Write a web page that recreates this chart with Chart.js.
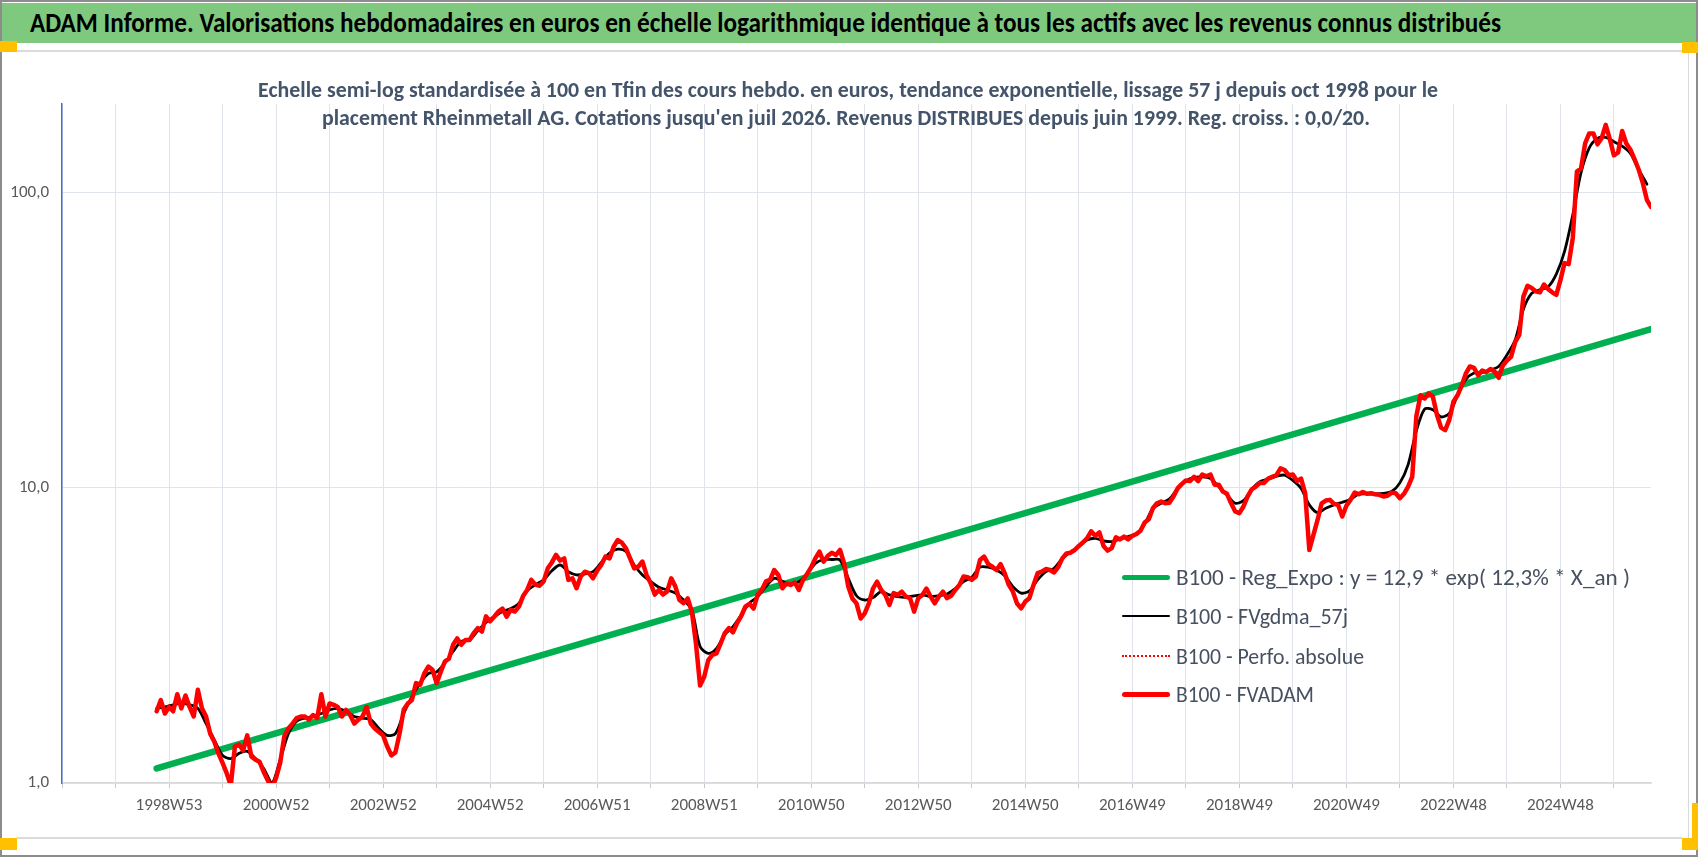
<!DOCTYPE html>
<html lang="fr">
<head>
<meta charset="utf-8">
<title>ADAM Informe - Rheinmetall AG</title>
<script src="https://cdn.jsdelivr.net/npm/chart.js@4.4.1/dist/chart.umd.min.js"></script>
<style>
  html, body { margin: 0; padding: 0; background: #fff; }
  #page { position: relative; width: 1698px; height: 857px; overflow: hidden; background: #fff;
          font-family: Carlito, Lato, sans-serif; }
  #frame { position: absolute; left: 0; top: 0; width: 1698px; height: 857px; box-sizing: border-box;
           border: 2px solid #8c8c8c; z-index: 6; pointer-events: none; }
  #bar { position: absolute; left: 2px; top: 3px; width: 1694px; height: 40px; background: #7fc97f; }
  #bar-title { position: absolute; left: 28px; top: 0; line-height: 40px; font-weight: bold; font-size: 28px;
               color: #000; white-space: nowrap; transform-origin: left center; }
  .edge { position: absolute; background: #dadada; }
  .handle { position: absolute; background: #ffc000; z-index: 7; }
  #chart { position: absolute; left: 0; top: 0; z-index: 1; }
  .sub { position: absolute; white-space: nowrap; font-weight: bold; font-size: 23px; line-height: 28px;
         color: #44546a; transform-origin: left center; z-index: 2; }
  .row { position: absolute; left: 1122px; height: 30px; width: 520px; z-index: 2; }
  .row .mark { position: absolute; left: 0; width: 48px; }
  .row .txt { position: absolute; left: 54px; top: 0; line-height: 30px; font-size: 23px; color: #475060;
              white-space: nowrap; transform-origin: left center; }
</style>
</head>
<body>
<div id="page">
  <div id="bar"><span id="bar-title">ADAM Informe. Valorisations hebdomadaires en euros en échelle logarithmique identique à tous les actifs avec les revenus connus distribués</span></div>

  <div class="edge" style="left:17px; top:50px; width:1665px; height:2px;"></div>
  <div class="edge" style="left:17px; top:837px; width:1665px; height:2px;"></div>
  <div class="edge" style="left:1688px; top:52px; width:1px; height:786px;"></div>

  <div class="handle" style="left:0; top:41px; width:17px; height:11px;"></div>
  <div class="handle" style="left:1682px; top:42px; width:16px; height:11px;"></div>
  <div class="handle" style="left:0; top:838px; width:17px; height:12px;"></div>
  <div class="handle" style="left:1682px; top:838px; width:16px; height:12px;"></div>
  <div class="handle" style="left:1692px; top:803px; width:6px; height:40px;"></div>

  <canvas id="chart" width="1698" height="857"></canvas>

  <div class="sub" id="sub1" style="left:258px; top:75px;">Echelle semi-log standardisée à 100 en Tfin des cours hebdo. en euros, tendance exponentielle, lissage 57 j depuis oct 1998 pour le</div>
  <div class="sub" id="sub2" style="left:322px; top:103px;">placement Rheinmetall AG. Cotations jusqu'en juil 2026. Revenus DISTRIBUES depuis juin 1999. Reg. croiss. : 0,0/20.</div>

  <div id="legend"></div>
  <div id="frame"></div>
</div>

<script>
// ---- Données (semaines depuis 1997W01) ----
const X_TICK_LABELS = ['1998W53', '2000W52', '2002W52', '2004W52', '2006W51', '2008W51', '2010W50',
  '2012W50', '2014W50', '2016W49', '2018W49', '2020W49', '2022W48', '2024W48'];
const Y_TICKS = [1, 10, 100];
const Y_TICK_LABELS = ['1,0', '10,0', '100,0'];

// FVADAM : une valeur toutes les 4 semaines, à partir de la semaine 92 (oct 1998)
const FVADAM_START = 92;
const FVADAM_STEP = 4;
const FVADAM = [
  1.75, 1.91, 1.72, 1.81, 1.75, 2.0, 1.79, 1.98, 1.81, 1.68,
  2.07, 1.79, 1.68, 1.47, 1.38, 1.26, 1.17, 1.08, 0.98, 1.33,
  1.35, 1.29, 1.45, 1.23, 1.2, 1.18, 1.09, 1.02, 0.96, 1.04,
  1.17, 1.44, 1.53, 1.59, 1.66, 1.68, 1.68, 1.64, 1.70, 1.66,
  2.0, 1.68, 1.86, 1.84, 1.81, 1.68, 1.77, 1.70, 1.59, 1.64,
  1.68, 1.81, 1.59, 1.53, 1.49, 1.45, 1.33, 1.24, 1.27, 1.47,
  1.77, 1.86, 1.91, 2.18, 2.15, 2.35, 2.48, 2.42, 2.18, 2.38,
  2.58, 2.64, 2.94, 3.09, 2.94, 3.05,
  3.05, 3.22, 3.35, 3.26, 3.67, 3.53, 3.66, 3.81, 3.9, 3.66,
  3.86, 3.81, 3.96, 4.30, 4.51, 4.88, 4.70, 4.66, 4.82, 5.34,
  5.59, 5.93, 5.67, 5.77, 4.88, 4.94, 4.57, 5.01, 5.20, 5.14,
  4.94, 5.24, 5.48, 5.85, 5.77, 6.32, 6.66, 6.52, 6.24, 5.77,
  5.34, 5.41, 5.63, 5.07, 4.75, 4.35, 4.51, 4.35, 4.46, 4.94,
  4.63, 4.17, 4.07, 4.22, 3.81, 2.97, 2.14, 2.29, 2.61, 2.72,
  2.75, 2.97, 3.22, 3.35, 3.24, 3.48, 3.68, 3.96, 4.05, 3.90,
  4.35, 4.51, 4.82, 4.88, 5.27, 5.07, 4.57, 4.75,
  4.69, 4.78, 4.51, 4.88, 5.11, 5.39, 5.77, 6.08, 5.62, 5.88,
  6.03, 5.93, 6.16, 5.55, 4.63, 4.22, 4.06, 3.61, 3.76, 4.06,
  4.56, 4.81, 4.51, 4.34, 4.01, 4.40, 4.34, 4.45, 4.28, 4.23,
  3.81, 4.23, 4.34, 4.56, 4.28, 4.06, 4.28, 4.45, 4.23, 4.31,
  4.51, 4.69, 5.01, 4.98, 4.88, 5.01, 5.70, 5.85, 5.52, 5.41,
  5.27, 5.52, 5.14, 4.69, 4.45, 4.06, 3.91, 4.12, 4.23, 4.69,
  5.14, 5.20, 5.31, 5.27, 5.17, 5.39, 5.77, 6.0, 6.03, 6.16,
  6.36, 6.53, 6.75, 7.13, 6.88, 7.07, 6.36, 6.13,
  6.25, 6.80, 6.69, 6.84, 6.69, 6.88, 6.98, 7.16, 7.63, 7.83,
  8.53, 8.87, 8.99, 8.87, 8.9, 9.35, 9.96, 10.3, 10.6, 10.55,
  10.9, 10.55, 11.1, 10.95, 11.1, 10.25, 10.25, 9.72, 9.55, 8.87,
  8.32, 8.21, 8.65, 9.35, 9.89, 10.1, 10.4, 10.4, 10.75, 10.9,
  11.05, 11.65, 11.5, 11.05, 11.1, 10.55, 10.75, 9.59, 6.16, 6.93,
  7.79, 8.87, 9.06, 9.11, 8.83, 8.76, 8.0, 8.7, 9.11, 9.64,
  9.52, 9.69, 9.55, 9.59, 9.52, 9.47, 9.35, 9.40, 9.64, 9.59,
  9.23, 9.55, 10.1, 10.9, 17.5, 20.6, 20.1, 20.9,
  20.4, 17.7, 16.0, 15.7, 17.0, 19.6, 20.6, 22.2, 24.4, 25.8,
  25.5, 24.1, 25.0, 24.7, 25.3, 24.8, 23.6, 26.0, 27.0, 27.8,
  31.2, 33.0, 44.5, 48.4, 47.6, 46.4, 46.0, 48.9, 47.2, 46.0,
  45.1, 50.6, 57.8, 57.3, 70.3, 118, 121, 147, 159, 159,
  146, 153, 170, 152, 134, 137, 162, 147, 140, 130,
  120, 108, 94.7, 89.6
];

// FVgdma_57j : une valeur toutes les 8 semaines
const GDMA_START = 92;
const GDMA_STEP = 8;
const FVGDMA = [
  1.79, 1.81, 1.84, 1.86, 1.84, 1.79, 1.59, 1.40, 1.24, 1.21,
  1.26, 1.28, 1.21, 1.12, 1.0, 1.20, 1.47, 1.62, 1.66, 1.68,
  1.72, 1.77, 1.79, 1.75, 1.68, 1.66, 1.64, 1.53, 1.45, 1.47,
  1.72, 1.96, 2.18, 2.35, 2.38, 2.55, 2.79, 3.02,
  3.05, 3.28, 3.50, 3.66, 3.81, 3.90, 4.07, 4.48, 4.70, 4.88,
  5.24, 5.48, 5.20, 5.07, 5.11, 5.20, 5.59, 6.01, 6.20, 6.09,
  5.48, 5.07, 4.82, 4.61, 4.51, 4.40, 4.17, 3.86, 2.90, 2.75,
  2.86, 3.18, 3.39, 3.71, 4.07, 4.28, 4.63, 4.94, 4.82,
  4.72, 4.81, 5.11, 5.55, 5.72, 5.72, 5.70, 4.94, 4.31, 4.17,
  4.25, 4.45, 4.34, 4.28, 4.26, 4.31, 4.34, 4.28, 4.31, 4.37,
  4.56, 4.81, 4.98, 5.39, 5.39, 5.27, 5.04, 4.63, 4.40, 4.48,
  4.88, 5.20, 5.34, 5.77, 6.06, 6.33, 6.66, 6.75, 6.62,
  6.58, 6.71, 6.84, 6.98, 7.55, 8.53, 8.87, 9.16, 9.96, 10.55,
  10.85, 10.9, 10.75, 10.1, 9.47, 8.87, 9.06, 9.89, 10.5, 10.7,
  10.95, 11.05, 10.6, 9.96, 8.76, 8.25, 8.53, 8.76, 8.94, 9.16,
  9.52, 9.55, 9.55, 9.59, 9.72, 10.4, 12.0, 15.6, 18.5,
  18.4, 17.4, 17.9, 20.6, 23.3, 24.5, 24.6, 25.1, 25.8, 28.2,
  31.7, 40.3, 45.6, 46.9, 48.0, 53.0, 63.3, 84.3, 117, 142,
  153, 154, 149, 144, 136, 120, 107
];

// Régression exponentielle : droite en semi-log, lue à ses deux extrémités
const REG_WEEKS = [92, 1544];
const REG_VALUES = [1.12, 34.5];

const X_MAX_WEEK = 1544;
const GRID_STEP = 52;
const LABEL_STEP = 104;

const LEGEND_ITEMS = [
  { text: 'B100 - Reg_Expo : y = 12,9 * exp( 12,3% *  X_an )', color: '#00b050', size: 5, style: 'solid', width: 454, y: 577 },
  { text: 'B100 - FVgdma_57j', color: '#000000', size: 2.5, style: 'solid', width: 172, y: 616 },
  { text: 'B100 - Perfo. absolue', color: '#ff0000', size: 2, style: 'dotted', width: 188, y: 656 },
  { text: 'B100 - FVADAM', color: '#ff0000', size: 5, style: 'solid', width: 138, y: 694 }
];

function toPoints(start, step, values) {
  return values.map((v, i) => ({ x: start + i * step, y: v }));
}

// étire le texte horizontalement pour retrouver la largeur de l'original
function fitText(el, width) {
  const w = el.getBoundingClientRect().width;
  if (w > 0) el.style.transform = 'scaleX(' + (width / w).toFixed(4) + ')';
}

function buildLegend() {
  const box = document.getElementById('legend');
  LEGEND_ITEMS.forEach(item => {
    const row = document.createElement('div');
    row.className = 'row';
    row.style.top = (item.y - 15) + 'px';
    const mark = document.createElement('div');
    mark.className = 'mark';
    if (item.style === 'dotted') {
      mark.style.top = (15 - item.size / 2) + 'px';
      mark.style.height = '0';
      mark.style.borderTop = item.size + 'px dotted ' + item.color;
    } else {
      mark.style.top = (15 - item.size / 2) + 'px';
      mark.style.height = item.size + 'px';
      mark.style.background = item.color;
      mark.style.borderRadius = (item.size / 2) + 'px';
    }
    const txt = document.createElement('span');
    txt.className = 'txt';
    txt.textContent = item.text;
    row.appendChild(mark);
    row.appendChild(txt);
    box.appendChild(row);
    fitText(txt, item.width);
  });
}

function drawChart() {
  Chart.defaults.font.family = 'Carlito, Lato, sans-serif';
  const ctx = document.getElementById('chart').getContext('2d');
  const adam = toPoints(FVADAM_START, FVADAM_STEP, FVADAM);

  new Chart(ctx, {
    type: 'line',
    data: {
      datasets: [
        { label: 'B100 - FVADAM', data: adam, borderColor: '#ff0000', borderWidth: 4.5, order: 0 },
        { label: 'B100 - Perfo. absolue', data: adam, borderColor: '#ff0000', borderWidth: 1.5,
          borderDash: [2, 2], order: 1 },
        { label: 'B100 - FVgdma_57j', data: toPoints(GDMA_START, GDMA_STEP, FVGDMA), borderColor: '#000000',
          borderWidth: 2.8, tension: 0.3, order: 2 },
        { label: LEGEND_ITEMS[0].text, data: REG_WEEKS.map((w, i) => ({ x: w, y: REG_VALUES[i] })),
          borderColor: '#00b050', borderWidth: 6.5, order: 3 }
      ]
    },
    options: {
      responsive: false,
      animation: false,
      elements: {
        point: { radius: 0 },
        line: { tension: 0, fill: false, borderJoinStyle: 'round', borderCapStyle: 'round' }
      },
      layout: { padding: { left: 0, top: 104, right: 47, bottom: 24 } },
      plugins: {
        legend: { display: false },
        tooltip: { enabled: false },
        title: { display: false }
      },
      scales: {
        x: {
          type: 'linear',
          min: 0,
          max: X_MAX_WEEK,
          afterBuildTicks: (scale) => {
            const ticks = [];
            for (let w = 0; w <= X_MAX_WEEK; w += GRID_STEP) ticks.push({ value: w });
            scale.ticks = ticks;
          },
          afterFit: (scale) => { scale.height = 50; },
          grid: { color: '#dfe3ea', lineWidth: 1, drawTicks: true, tickLength: 5, tickColor: '#c8c8c8' },
          border: { display: true, color: '#d9d9d9', width: 1.5 },
          ticks: {
            autoSkip: false,
            maxRotation: 0,
            minRotation: 0,
            padding: 8,
            color: '#595959',
            font: { size: 17 },
            callback: (v) => (v > 0 && v % LABEL_STEP === 0) ? (X_TICK_LABELS[v / LABEL_STEP - 1] || '') : ''
          }
        },
        y: {
          type: 'logarithmic',
          min: 1,
          max: 200,
          afterBuildTicks: (scale) => { scale.ticks = Y_TICKS.map(v => ({ value: v })); },
          afterFit: (scale) => { scale.width = 62; },
          grid: { color: '#dfe3ea', lineWidth: 1, drawTicks: false },
          border: { display: true, color: '#4472c4', width: 1.5 },
          ticks: {
            padding: 13,
            color: '#595959',
            font: { size: 17 },
            callback: (v) => {
              const k = Y_TICKS.indexOf(v);
              return k >= 0 ? Y_TICK_LABELS[k] : '';
            }
          }
        }
      }
    }
  });
}

function init() {
  fitText(document.getElementById('bar-title'), 1471);
  fitText(document.getElementById('sub1'), 1180);
  fitText(document.getElementById('sub2'), 1048);
  buildLegend();
  drawChart();
}

if (document.fonts && document.fonts.ready) {
  document.fonts.ready.then(init);
} else {
  window.addEventListener('load', init);
}
</script>
</body>
</html>
